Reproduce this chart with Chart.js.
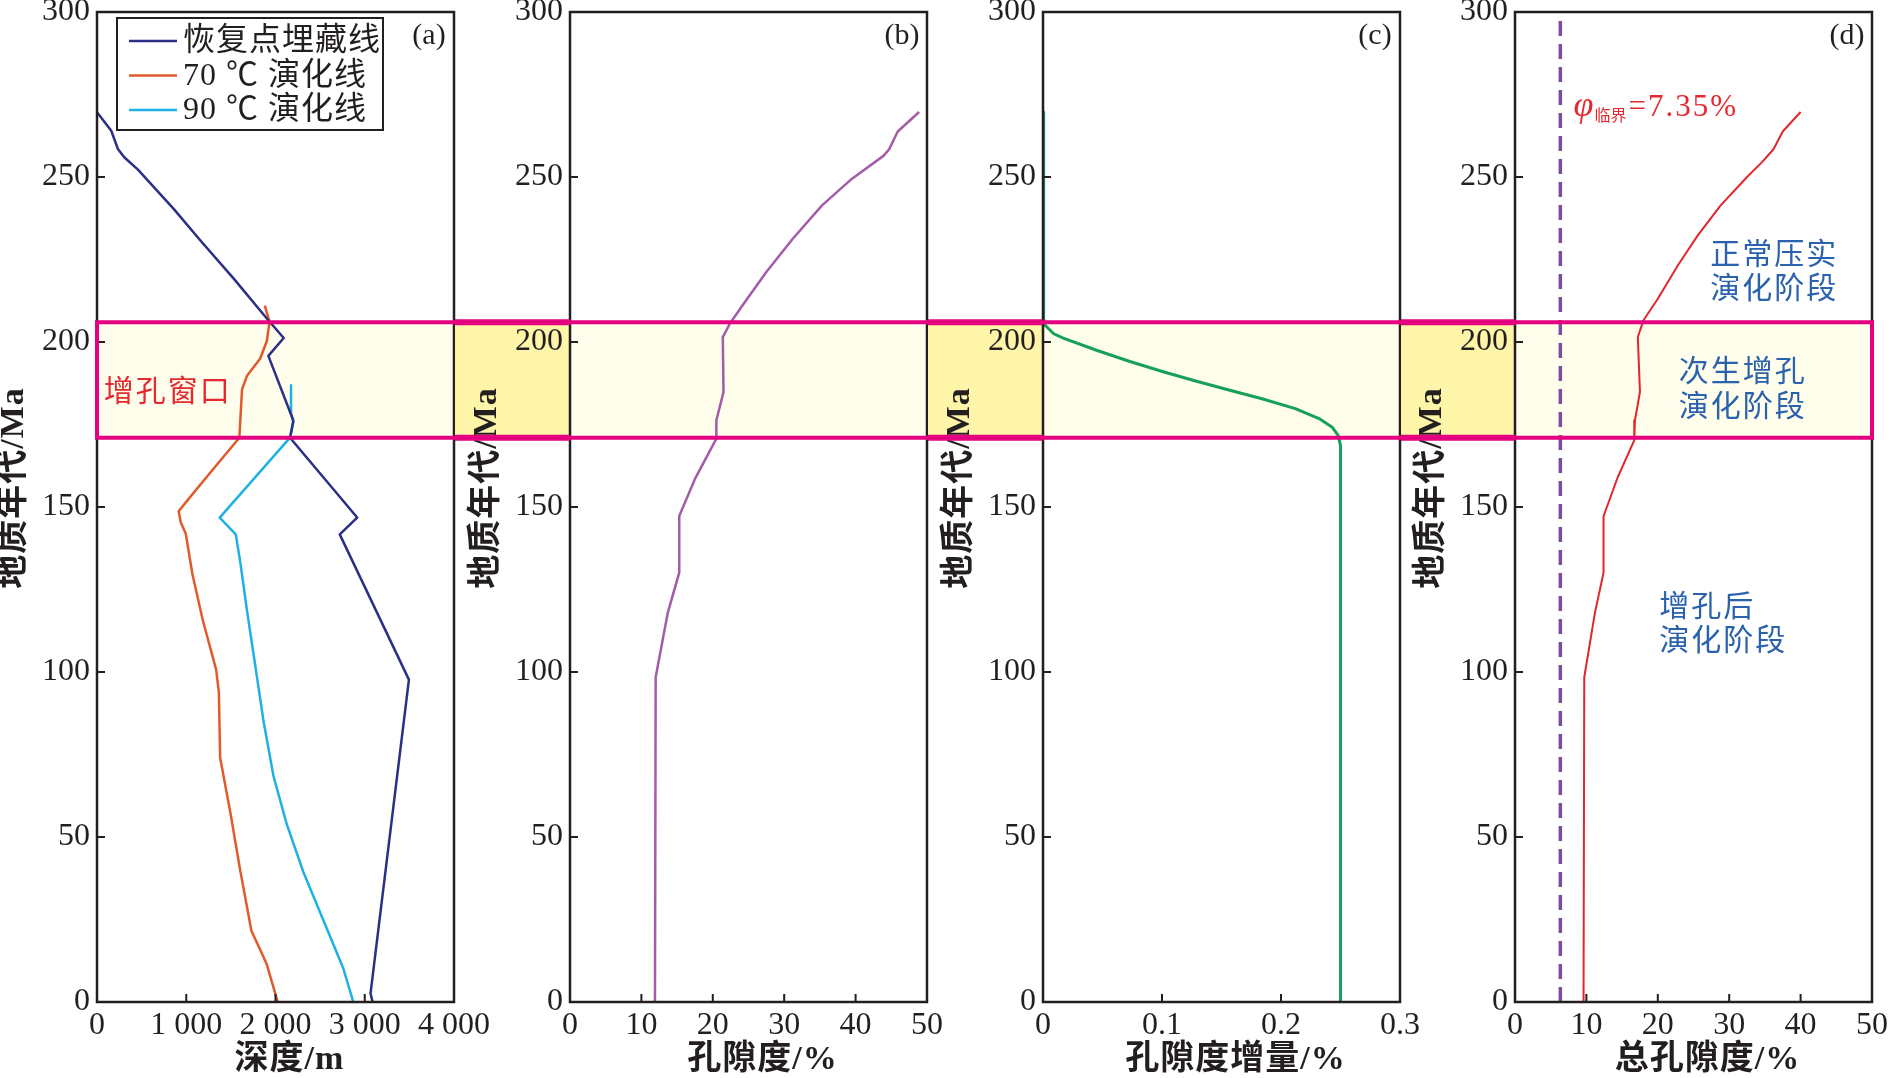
<!DOCTYPE html>
<html>
<head>
<meta charset="utf-8">
<script src="https://cdn.jsdelivr.net/npm/chart.js@4.4.1/dist/chart.umd.min.js"></script>
<style>
html,body{margin:0;padding:0;background:#fff;}
#wrap{position:relative;width:1889px;height:1078px;overflow:hidden;background:#fff;}
#wrap canvas{position:absolute;left:0;top:0;}
</style>
</head>
<body>
<div id="wrap">
<canvas id="ca" width="1889" height="1078"></canvas>
<canvas id="cb" width="1889" height="1078"></canvas>
<canvas id="cc" width="1889" height="1078"></canvas>
<canvas id="cd" width="1889" height="1078"></canvas>
</div>
<script>
// ---------------- DATA ----------------
const ageTickLabels = ['0','50','100','150','200','250','300'];
const depthTickLabels = ['0','1 000','2 000','3 000','4 000'];
const porosityTickLabels = ['0','10','20','30','40','50'];
const incrementTickLabels = ['0','0.1','0.2','0.3'];

// (a) 恢复点埋藏线
const burialAge   = [269.6, 264, 258.5, 255.9, 252.3, 240.2, 230.7, 219.2, 207.1, 201.2, 195.8, 176.2, 171, 146.8, 141.7, 97.7, 2.6, 0];
const burialDepth = [0, 160, 234, 308, 456, 864, 1161, 1532, 1903, 2092, 1920, 2200, 2163, 2915, 2720, 3495, 3065, 3088];
// (a) 70 ℃ 演化线
const t70Age   = [211, 206.1, 200.3, 195, 189.8, 185.6, 171, 160.6, 152, 148.7, 145.3, 142, 129.7, 116.3, 100.7, 94, 74, 57.3, 39.5, 21.6, 11.6, 0];
const t70Depth = [1880, 1933, 1903, 1829, 1681, 1625, 1595, 1275, 1013, 915, 939, 994, 1069, 1180, 1335, 1365, 1380, 1495, 1607, 1730, 1900, 2025];
// (a) 90 ℃ 演化线
const t90Age   = [186.9, 178.3, 175.7, 171, 146.8, 141.7, 133, 118.5, 101.8, 85.1, 68.4, 53.9, 39.4, 24.9, 10.4, 0];
const t90Depth = [2174, 2174, 2200, 2163, 1375, 1555, 1607, 1681, 1774, 1866, 1978, 2126, 2312, 2534, 2757, 2872];
// (b) 孔隙度
const porAge   = [269.7, 263.8, 258.4, 256.4, 249.5, 241.4, 231.3, 221.2, 210.6, 205.6, 201.5, 184.8, 176.3, 170.7, 158.5, 147.3, 130.1, 118, 98.4, 0];
const porValue = [48.9, 45.9, 44.7, 43.9, 39.5, 35.3, 31.2, 27.5, 24.0, 22.4, 21.4, 21.5, 20.5, 20.5, 17.5, 15.3, 15.3, 13.7, 12.0, 11.9];
// (c) 孔隙度增量
const incAge   = [269.7, 207, 205, 202.5, 201.2, 197.5, 194.1, 191, 188.1, 185.4, 182.8, 179.8, 176.8, 174.2, 171.7, 168.7, 0];
const incValue = [0.0005, 0.0005, 0.002, 0.009, 0.017, 0.045, 0.073, 0.101, 0.129, 0.157, 0.184, 0.212, 0.232, 0.243, 0.248, 0.25, 0.25];
// (d) 总孔隙度
const totAge   = [269.7, 263.8, 258.4, 254.5, 250, 241.4, 232.3, 223.2, 213.1, 206.6, 201.5, 184.8, 176.3, 170.2, 159.1, 147.2, 130.1, 118, 98.4, 0];
const totValue = [40.0, 37.5, 36.2, 34.6, 32.5, 28.8, 25.6, 22.8, 20.0, 18.0, 17.2, 17.5, 16.8, 16.7, 14.4, 12.4, 12.4, 11.2, 9.7, 9.6];
// critical porosity line (as drawn) and the porosity-increase window
const criticalAge = [0, 300];
const criticalPor = [6.35, 6.35];
const windowAge = [171, 206];

// ---------------- STYLE / LAYOUT ----------------
const SERIF = '"Liberation Serif", "Noto Sans CJK SC", serif';
const INK = '#231f20';
const MAGENTA = '#e4007f';
const W = 1889, H = 1078;
const PANEL_LEFT = [97, 570, 1043, 1515];
const PANEL_W = 357;
const PLOT_TOP = 12;
const Y_AXIS_W = 97;
const X_AXIS_H = 76;
const Y_TITLE = '地质年代/Ma';

Chart.defaults.font.family = SERIF;
Chart.defaults.color = INK;

const pts = (xs, ys) => xs.map((v, i) => ({x: v, y: ys[i]}));

const decoPlugin = {
  id: 'deco',
  beforeDraw(chart, args, o) {
    const {ctx, chartArea: a} = chart;
    const ys = chart.scales.y;
    const yt = ys.getPixelForValue(windowAge[1]);
    const yb = ys.getPixelForValue(windowAge[0]);
    ctx.save();
    ctx.fillStyle = '#fffdec';
    ctx.fillRect(a.left, yt, a.right - a.left, yb - yt);
    if (o.gapLeft != null) {
      ctx.fillStyle = '#fff5a8';
      ctx.fillRect(o.gapLeft, yt, a.left - o.gapLeft, yb - yt);
    }
    ctx.restore();
  },
  afterDatasetsDraw(chart, args, o) {
    const {ctx, chartArea: a} = chart;
    const xs = chart.scales.x, ys = chart.scales.y;
    ctx.save();
    // frame
    ctx.strokeStyle = INK;
    ctx.lineWidth = 2.5;
    ctx.strokeRect(a.left, a.top, a.right - a.left, a.bottom - a.top);
    // inward ticks
    ctx.lineWidth = 2;
    ctx.beginPath();
    xs.ticks.forEach(t => { const p = xs.getPixelForValue(t.value); ctx.moveTo(p, a.bottom); ctx.lineTo(p, a.bottom - 8); });
    ys.ticks.forEach(t => { const p = ys.getPixelForValue(t.value); ctx.moveTo(a.left, p); ctx.lineTo(a.left + 8, p); });
    ctx.stroke();
    // axis titles
    ctx.fillStyle = INK;
    ctx.font = 'bold 34px ' + SERIF;
    ctx.letterSpacing = '1px';
    ctx.textAlign = 'center';
    ctx.textBaseline = 'middle';
    ctx.fillText(o.xTitle, (a.left + a.right) / 2 + 14, H - 18);
    ctx.save();
    ctx.translate(ys.left + 14, (a.top + a.bottom) / 2 - 19);
    ctx.rotate(-Math.PI / 2);
    ctx.fillText(Y_TITLE, 0, 0);
    ctx.restore();
    ctx.letterSpacing = '0px';
    // panel letter
    ctx.font = '30px ' + SERIF;
    ctx.fillText(o.letter, a.right - 25, a.top + 24);
    // notes
    (o.notes || []).forEach(n => {
      const px = xs.getPixelForValue(n.x), py = ys.getPixelForValue(n.y);
      ctx.fillStyle = n.color;
      ctx.textBaseline = 'middle';
      if (n.parts) {
        let cx = px;
        ctx.textAlign = 'left';
        n.parts.forEach(p => {
          ctx.font = p.font;
          ctx.letterSpacing = p.spacing || '0px';
          ctx.fillText(p.text, cx, py + (p.dy || 0));
          cx += ctx.measureText(p.text).width + (p.gap || 0);
        });
      } else {
        ctx.font = (n.font || '30px') + ' ' + SERIF;
        ctx.letterSpacing = n.spacing || '2px';
        ctx.textAlign = n.align || 'center';
        ctx.fillText(n.text, px, py);
      }
      ctx.letterSpacing = '0px';
    });
    // legend
    if (o.legend) {
      const bx = a.left + 20, by = a.top + 6, bw = 266, bh = 112;
      ctx.fillStyle = '#fff';
      ctx.fillRect(bx, by, bw, bh);
      ctx.strokeStyle = INK;
      ctx.lineWidth = 2;
      ctx.strokeRect(bx, by, bw, bh);
      chart.data.datasets.forEach((ds, i) => {
        const ry = by + 23 + i * 34.5;
        ctx.strokeStyle = ds.borderColor;
        ctx.lineWidth = 2.5;
        ctx.beginPath();
        ctx.moveTo(bx + 12, ry);
        ctx.lineTo(bx + 60, ry);
        ctx.stroke();
        ctx.fillStyle = INK;
        ctx.font = '32px ' + SERIF;
        ctx.letterSpacing = '1px';
        ctx.textAlign = 'left';
        ctx.textBaseline = 'middle';
        ctx.fillText(ds.label, bx + 66, ry + 1);
        ctx.letterSpacing = '0px';
      });
    }
    // window box border
    const yt = ys.getPixelForValue(windowAge[1]);
    const yb = ys.getPixelForValue(windowAge[0]);
    const x0 = o.gapLeft != null ? o.gapLeft : a.left;
    ctx.strokeStyle = MAGENTA;
    ctx.lineCap = 'square';
    ctx.lineWidth = 4;
    ctx.beginPath();
    ctx.moveTo(x0, yt); ctx.lineTo(a.right, yt);
    ctx.moveTo(x0, yb); ctx.lineTo(a.right, yb);
    if (o.closeLeft) { ctx.moveTo(a.left, yt); ctx.lineTo(a.left, yb); }
    if (o.closeRight) { ctx.moveTo(a.right, yt); ctx.lineTo(a.right, yb); }
    ctx.stroke();
    if (o.gapLeft != null) {
      ctx.lineCap = 'butt';
      ctx.lineWidth = 6;
      ctx.beginPath();
      ctx.moveTo(o.gapLeft, yt); ctx.lineTo(a.left, yt);
      ctx.moveTo(o.gapLeft, yb); ctx.lineTo(a.left, yb);
      ctx.stroke();
    }
    ctx.restore();
  }
};

function lineDs(label, xs, ys, color, width, dash) {
  return {
    label, data: pts(xs, ys), showLine: true, borderColor: color, backgroundColor: color,
    borderWidth: width, pointRadius: 0, pointHoverRadius: 0, tension: 0, fill: false,
    borderDash: dash || [], borderJoinStyle: 'round', borderCapStyle: 'butt'
  };
}

function makeChart(id, idx, xCfg, datasets, deco) {
  const left = PANEL_LEFT[idx], right = left + PANEL_W;
  deco.xTitle = xCfg.title;
  return new Chart(document.getElementById(id), {
    type: 'scatter',
    data: {datasets},
    options: {
      responsive: false, animation: false, devicePixelRatio: 1, events: [],
      layout: {padding: {left: left - Y_AXIS_W, right: W - right, top: PLOT_TOP, bottom: 0}},
      plugins: {legend: {display: false}, tooltip: {enabled: false}, deco},
      scales: {
        x: {
          type: 'linear', min: xCfg.min, max: xCfg.max,
          ticks: {stepSize: xCfg.step, autoSkip: false, maxRotation: 0, padding: 4,
                  font: {size: 32, family: SERIF}, color: INK,
                  callback: (v, i) => xCfg.labels[i]},
          grid: {display: false, drawTicks: false}, border: {display: false},
          title: {display: false},
          afterFit: s => { s.height = X_AXIS_H; s.paddingLeft = 0; s.paddingRight = 0; }
        },
        y: {
          type: 'linear', min: 0, max: 300,
          ticks: {stepSize: 50, autoSkip: false, padding: 7,
                  font: {size: 32, family: SERIF}, color: INK,
                  callback: (v, i) => ageTickLabels[i]},
          grid: {display: false, drawTicks: false}, border: {display: false},
          title: {display: false},
          afterFit: s => { s.width = Y_AXIS_W; s.paddingTop = 0; s.paddingBottom = 0; }
        }
      }
    },
    plugins: [decoPlugin]
  });
}

const RED_NOTE = '#e5292e';
const BLUE_NOTE = '#2b62ad';

makeChart('ca', 0,
  {min: 0, max: 4000, step: 1000, labels: depthTickLabels, title: '深度/m'},
  [
    lineDs('恢复点埋藏线', burialDepth, burialAge, '#2b2f86', 2.5),
    lineDs('70 ℃ 演化线', t70Depth, t70Age, '#e05a2b', 2.5),
    lineDs('90 ℃ 演化线', t90Depth, t90Age, '#1fb0e6', 2.5)
  ],
  {letter: '(a)', legend: true, closeLeft: true,
   notes: [{text: '增孔窗口', x: 75, y: 184.6, align: 'left', color: RED_NOTE}]});

makeChart('cb', 1,
  {min: 0, max: 50, step: 10, labels: porosityTickLabels, title: '孔隙度/%'},
  [lineDs('孔隙度', porValue, porAge, '#a35ca8', 2.5)],
  {letter: '(b)', gapLeft: PANEL_LEFT[0] + PANEL_W + 1});

makeChart('cc', 2,
  {min: 0, max: 0.3, step: 0.1, labels: incrementTickLabels, title: '孔隙度增量/%'},
  [lineDs('孔隙度增量', incValue, incAge, '#16a058', 3)],
  {letter: '(c)', gapLeft: PANEL_LEFT[1] + PANEL_W + 1});

makeChart('cd', 3,
  {min: 0, max: 50, step: 10, labels: porosityTickLabels, title: '总孔隙度/%'},
  [
    lineDs('总孔隙度', totValue, totAge, '#e3262c', 2),
    lineDs('临界孔隙度', criticalPor, criticalAge, '#7b4f9f', 3.5, [15, 8])
  ],
  {letter: '(d)', gapLeft: PANEL_LEFT[2] + PANEL_W + 1, closeRight: true,
   notes: [
     {x: 8.2, y: 271.5, color: RED_NOTE, parts: [
       {text: 'φ', font: 'italic 36px ' + SERIF, gap: 1},
       {text: '临界', font: '16px "Noto Sans CJK SC"', dy: 9, gap: 2},
       {text: '=7.35%', font: '31px ' + SERIF, spacing: '2px', dy: 2}
     ]},
     {text: '正常压实', x: 36.3, y: 225.9, color: BLUE_NOTE},
     {text: '演化阶段', x: 36.3, y: 215.7, color: BLUE_NOTE},
     {text: '次生增孔', x: 31.9, y: 190.5, color: BLUE_NOTE},
     {text: '演化阶段', x: 31.9, y: 180.0, color: BLUE_NOTE},
     {text: '增孔后', x: 20.2, y: 119.4, align: 'left', color: BLUE_NOTE},
     {text: '演化阶段', x: 20.2, y: 109.0, align: 'left', color: BLUE_NOTE}
   ]});
</script>
</body>
</html>
